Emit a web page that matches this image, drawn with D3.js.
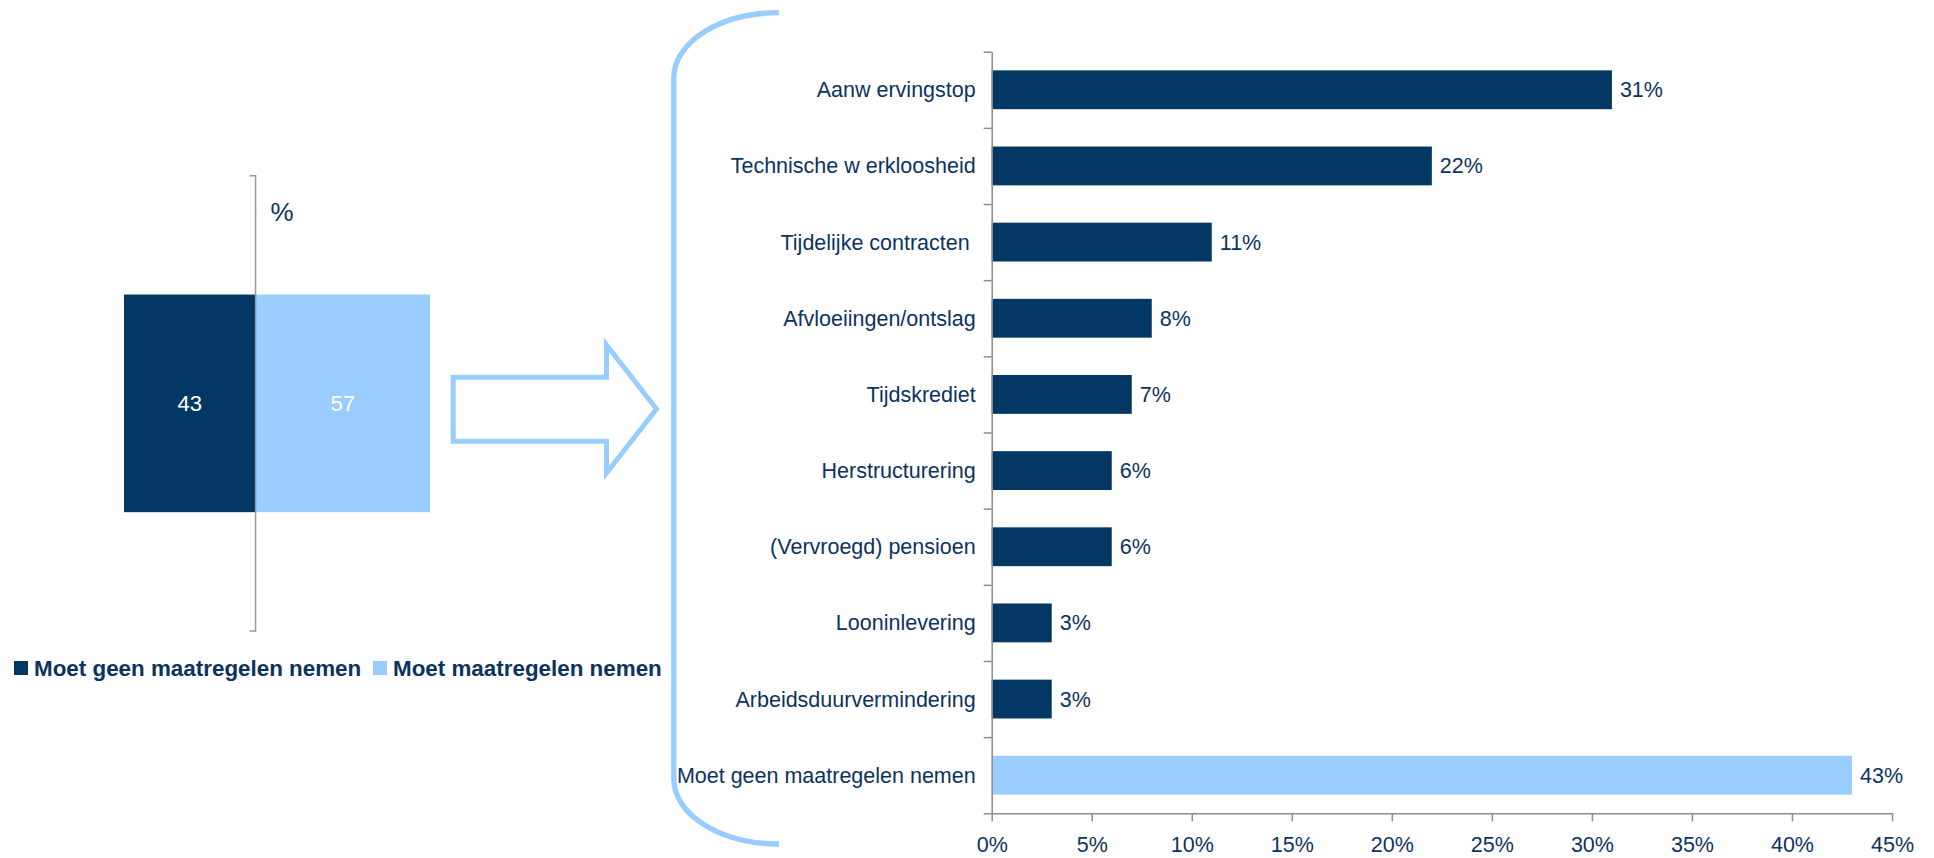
<!DOCTYPE html>
<html>
<head>
<meta charset="utf-8">
<script src="https://cdn.jsdelivr.net/npm/d3@7"></script>
<style>
  body { margin: 0; background: #fff; }
  svg text { font-family: "Liberation Sans", Arial, sans-serif; fill: #0b3360; }
</style>
</head>
<body>
<svg id="chart" width="1934" height="858"></svg>
<script>
// overview (left) data
var splitLabels = ["Moet geen maatregelen nemen", "Moet maatregelen nemen"];
var splitValues = [43, 57];

// measures (right) data
var measures = [
  "Aanw ervingstop",
  "Technische w erkloosheid",
  "Tijdelijke contracten ",
  "Afvloeiingen/ontslag",
  "Tijdskrediet",
  "Herstructurering",
  "(Vervroegd) pensioen",
  "Looninlevering",
  "Arbeidsduurvermindering",
  "Moet geen maatregelen nemen"
];
var measureValues = [31, 22, 11, 8, 7, 6, 6, 3, 3, 43];
var xTicks = [0, 5, 10, 15, 20, 25, 30, 35, 40, 45];

var dark = "#033865", light = "#99ccff", axisColor = "#8c8c8c";

var svg = d3.select("#chart");

//---- left stacked bar
var xs = d3.scaleLinear().domain([0, 100]).range([124, 430]);
var ys = d3.scaleBand().domain(["%"]).range([175.7, 631])
  .paddingInner(0.522).paddingOuter(0.261);

var stackStart = [0, splitValues[0]];
var left = svg.append("g");
left.selectAll("rect")
  .data(splitValues)
  .enter()
  .append("rect")
  .attr("x", (d, i) => xs(stackStart[i]))
  .attr("y", ys("%"))
  .attr("width", (d, i) => xs(stackStart[i] + d) - xs(stackStart[i]))
  .attr("height", ys.bandwidth())
  .attr("fill", (d, i) => i === 0 ? dark : light);

left.selectAll("text.val")
  .data(splitValues)
  .enter()
  .append("text")
  .attr("class", "val")
  .attr("x", (d, i) => xs(stackStart[i] + d / 2))
  .attr("y", ys("%") + ys.bandwidth() / 2)
  .attr("dy", "0.35em")
  .attr("text-anchor", "middle")
  .style("font-size", "22px")
  .style("fill", "#fff")
  .text(d => d);

// vertical axis of the left chart
var ax = xs(splitValues[0]);
left.append("path")
  .attr("d", `M${ax - 6},175.7H${ax}V631H${ax - 6}`)
  .attr("fill", "none")
  .attr("stroke", "#999")
  .attr("stroke-width", 1.5);

left.append("text")
  .attr("x", 270.5)
  .attr("y", 221)
  .style("font-size", "26px")
  .text("%");

// legend
var legendX = [14, 373];
var legend = svg.append("g").selectAll("g")
  .data(splitLabels)
  .enter()
  .append("g")
  .attr("transform", (d, i) => `translate(${legendX[i]},668)`);
legend.append("rect")
  .attr("x", 0).attr("y", -7)
  .attr("width", 14).attr("height", 14)
  .attr("fill", (d, i) => i === 0 ? dark : light);
legend.append("text")
  .attr("x", 20)
  .attr("dy", "0.36em")
  .style("font-size", "22.4px")
  .style("font-weight", "bold")
  .text(d => d);

//---- arrow and bracket
svg.append("path")
  .attr("d", "M453.2,377.3H606.5V345L656.5,409L606.5,473V441.3H453.2Z")
  .attr("fill", "none")
  .attr("stroke", light)
  .attr("stroke-width", 5);

svg.append("path")
  .attr("d", "M779,12.7A105,65 0 0 0 673.8,78V779A105,65 0 0 0 779,844")
  .attr("fill", "none")
  .attr("stroke", light)
  .attr("stroke-width", 5.3);

//---- right bar chart
var x = d3.scaleLinear().domain([0, 45]).range([991.7, 1892]);
var y = d3.scaleBand().domain(measures).range([51.7, 813.3])
  .paddingInner(0.49).paddingOuter(0.245);
var yb = d3.scaleLinear().domain([0, measures.length]).range([51.7, 813.3]);

var right = svg.append("g");

right.selectAll("rect")
  .data(measureValues)
  .enter()
  .append("rect")
  .attr("x", x(0))
  .attr("y", (d, i) => y(measures[i]))
  .attr("width", d => x(d) - x(0))
  .attr("height", y.bandwidth())
  .attr("fill", (d, i) => i === measures.length - 1 ? light : dark);

right.selectAll("text.val")
  .data(measureValues)
  .enter()
  .append("text")
  .attr("class", "val")
  .attr("x", d => x(d) + 8)
  .attr("y", (d, i) => y(measures[i]) + y.bandwidth() / 2)
  .attr("dy", "0.35em")
  .style("font-size", "21.5px")
  .text(d => d + "%");

right.selectAll("text.cat")
  .data(measures)
  .enter()
  .append("text")
  .attr("class", "cat")
  .attr("x", x(0) - 16)
  .attr("y", d => y(d) + y.bandwidth() / 2)
  .attr("dy", "0.35em")
  .attr("text-anchor", "end")
  .style("font-size", "21.5px")
  .style("white-space", "pre")
  .text(d => d);

// category axis with ticks on band boundaries
var yAxis = right.append("g")
  .attr("transform", `translate(${x(0)},0)`)
  .call(d3.axisLeft(yb).ticks(measures.length).tickFormat("").tickSize(8).tickSizeOuter(0));
yAxis.selectAll("line, path").attr("stroke", axisColor).attr("stroke-width", 1.5);

var xAxis = right.append("g")
  .attr("transform", `translate(0,${yb(measures.length)})`)
  .call(d3.axisBottom(x).tickValues(xTicks).tickFormat(d => d + "%")
    .tickSize(8).tickSizeOuter(0).tickPadding(15));
xAxis.selectAll("line, path").attr("stroke", axisColor).attr("stroke-width", 1.5);
xAxis.selectAll("text")
  .style("font-size", "21.5px")
  .style("font-family", "'Liberation Sans', Arial, sans-serif")
  .attr("fill", "#0b3360");
</script>
</body>
</html>
